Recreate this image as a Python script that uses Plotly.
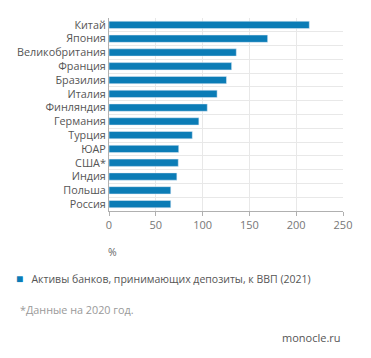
import plotly.graph_objects as go

countries = ["Китай", "Япония", "Великобритания", "Франция", "Бразилия", "Италия",
             "Финляндия", "Германия", "Турция", "ЮАР", "США*", "Индия", "Польша", "Россия"]
values = [214, 169.5, 136, 131, 125.5, 115.5, 105, 96, 89, 74.5, 74, 72.5, 66, 66]
x_ticks = [0, 50, 100, 150, 200, 250]
series_name = "Активы банков, принимающих депозиты, к ВВП (2021)"
bar_color = "#0b7cb6"

pos = list(range(len(countries)))
bounds = [p - 0.5 for p in pos] + [pos[-1] + 0.5]

fig = go.Figure(go.Bar(
    x=values, y=pos, orientation="h", marker_color=bar_color,
    width=0.53, name=series_name, showlegend=False,
))

fig.update_layout(
    width=363, height=350,
    margin=dict(l=101, r=28, t=10, b=147),
    paper_bgcolor="white", plot_bgcolor="white",
    font=dict(family="Open Sans", size=10.5, color="#555"),
    xaxis=dict(range=[0, 250], tickvals=x_ticks, showgrid=True, gridcolor="#e8e8e8",
               gridwidth=1, zeroline=False, showline=True, linecolor="#b0b0b0",
               ticks="outside", ticklen=4, tickcolor="#b0b0b0", automargin=False,
               tickfont=dict(size=11, color="#777")),
    yaxis=dict(range=[13.5, -0.5], tickmode="array", tickvals=pos, ticktext=countries,
               showgrid=False, zeroline=False, showline=True, linecolor="#b0b0b0",
               ticks="", automargin=False, tickfont=dict(size=10.8, color="#555"),
               minor=dict(tickmode="array", tickvals=bounds, showgrid=True,
                          gridcolor="#e8e8e8", gridwidth=1, ticks="")),
    annotations=[
        dict(text="%", xref="paper", yref="paper", x=0.017, y=-0.212,
             xanchor="center", yanchor="middle", showarrow=False,
             font=dict(size=10.5, color="#666")),
        dict(text=f"<span style='color:{bar_color};font-size:12px'>■</span>   {series_name}",
             xref="paper", yref="paper", x=-0.405, y=-0.352,
             xanchor="left", yanchor="middle", showarrow=False,
             font=dict(size=10.5, color="#555")),
        dict(text="*Данные на 2020 год.", xref="paper", yref="paper", x=-0.39, y=-0.508,
             xanchor="left", yanchor="middle", showarrow=False,
             font=dict(size=10.8, color="#999")),
        dict(text="monocle.ru", xref="paper", yref="paper", x=1.0, y=-0.653,
             xanchor="right", yanchor="middle", showarrow=False,
             font=dict(size=11, color="#555")),
    ],
)

fig.write_html("out.html")
